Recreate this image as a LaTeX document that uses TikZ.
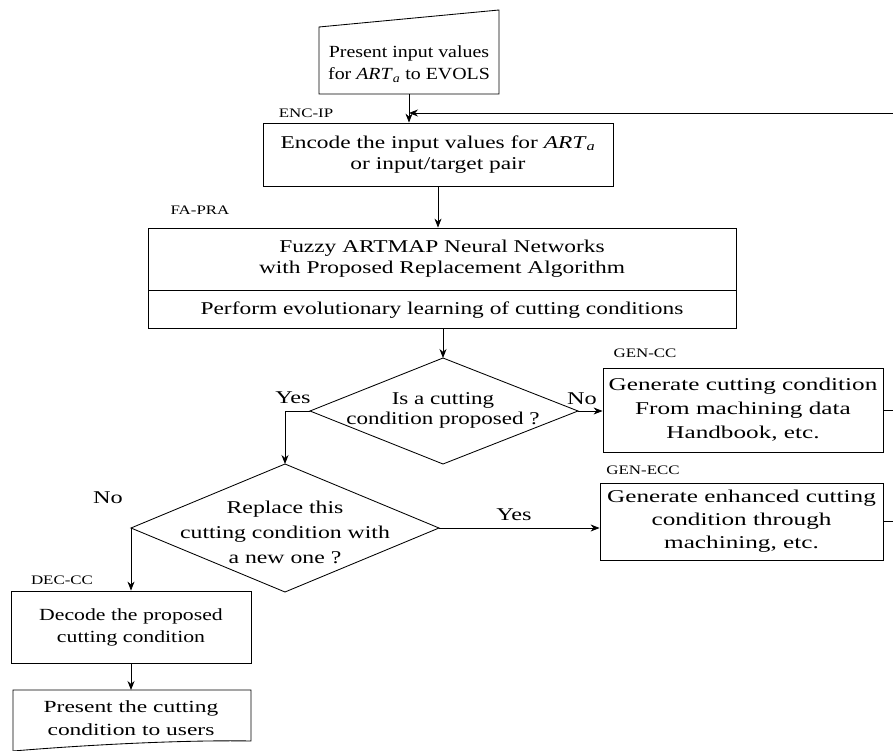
\documentclass[tikz,border=0pt]{standalone}
\usepackage{fontspec}
\setmainfont{Liberation Serif}
\newfontfamily\fwa[FakeStretch=1.17]{Liberation Serif}
\newfontfamily\fwb[FakeStretch=1.30]{Liberation Serif}
\newfontfamily\fwc[FakeStretch=1.30]{Liberation Serif}
\newfontfamily\fwd[FakeStretch=1.40]{Liberation Serif}
\newfontfamily\fwe[FakeStretch=1.28]{Liberation Serif}
\newfontfamily\fwg[FakeStretch=1.32]{Liberation Serif}
\newfontfamily\fwf[FakeStretch=1.28]{Liberation Serif}
\newfontfamily\fwh[FakeStretch=1.38]{Liberation Serif}
\newfontfamily\fwy[FakeStretch=1.35]{Liberation Serif}
\newfontfamily\fwl[FakeStretch=1.30]{Liberation Serif}
\newcommand{\arta}{\textit{ART}\textsubscript{\textit{a}}}
\usetikzlibrary{arrows.meta}
\begin{document}
\begin{tikzpicture}[x=1pt,y=-1pt,line width=0.85pt,
  txt/.style={inner sep=0pt, align=center},
  box/.style={txt, draw},
  sA/.style={font=\fwa\fontsize{17}{22}\selectfont},
  sB/.style={font=\fwb\fontsize{18}{21}\selectfont},
  sC/.style={font=\fwc\fontsize{18}{21}\selectfont},
  sD/.style={font=\fwd\fontsize{18}{24}\selectfont},
  sD2/.style={font=\fwd\fontsize{18}{23}\selectfont},
  sE/.style={font=\fwe\fontsize{18}{20}\selectfont},
  sG/.style={font=\fwg\fontsize{18}{25}\selectfont},
  sF/.style={font=\fwf\fontsize{17}{22}\selectfont},
  sH/.style={font=\fwh\fontsize{17}{23}\selectfont},
  yn/.style={txt, font=\fwy\fontsize{18}{22}\selectfont},
  lbl/.style={font=\fwl\fontsize{13}{15}\selectfont, inner sep=0pt},
  arr/.style={-{Stealth[length=9pt,width=7pt]}}]
\useasboundingbox (0,0) rectangle (893,751);
% top manual-input box
\coordinate (tbl) at (319,27);
\coordinate (tbr) at (499,10);
\coordinate (tb) at (409,94);
\draw (tbl) -- (tbr) -- (499,94) -- (319,94) -- cycle;
\node[txt, sA] (toptxt) at (409,64) {Present input values\\for \arta{} to EVOLS};
% encode
\node[lbl] (encip) at (306,113) {ENC-IP};
\node[box, sB, minimum width=350pt, minimum height=63pt] (enc) at (438,154.5) {Encode the input values for \arta\\or input/target pair};
\draw[arr] (tb) -- (tb |- enc.north);
\coordinate (fb) at (893,113);
\draw[arr] (fb) -- (fb -| tb);
% FA-PRA
\node[lbl] (fapra) at (200,210) {FA-PRA};
\node[box, sC, minimum width=588pt, minimum height=62pt] (fa1) at (442,259) {Fuzzy ARTMAP Neural Networks\\with Proposed Replacement Algorithm};
\node[box, sC, minimum width=588pt, minimum height=38pt, anchor=north] (fa2) at (fa1.south) {Perform evolutionary learning of cutting conditions};
\draw[arr] (enc.south) -- (enc.south |- fa1.north);
% diamond 1
\coordinate (d1t) at (443,358);
\coordinate (d1l) at (310,411);
\coordinate (d1r) at (578,411);
\coordinate (d1b) at (443,464);
\draw (d1t) -- (d1r) -- (d1b) -- (d1l) -- cycle;
\node[txt, sE] (d1txt) at (443,410) {Is a cutting\\condition proposed ?};
\draw[arr] (fa2.south -| d1t) -- (d1t);
\node[yn] (yes1) at (293,398) {Yes};
\node[yn] (no1) at (582,399) {No};
% GEN-CC
\node[lbl] (gencclbl) at (645,353) {GEN-CC};
\node[box, sD, minimum width=280pt, minimum height=84pt] (gencc) at (743,410) {Generate cutting condition\\From machining data\\Handbook, etc.};
\draw[arr] (d1r) -- (d1r -| gencc.west);
\draw (gencc.east) -- (gencc.east -| fb);
% diamond 2
\coordinate (d2t) at (285,464);
\coordinate (d2l) at (131,528);
\coordinate (d2r) at (439,528);
\coordinate (d2b) at (285,592);
\draw (d2t) -- (d2r) -- (d2b) -- (d2l) -- cycle;
\node[txt, sG] (d2txt) at (285,532) {Replace this\\cutting condition with\\a new one ?};
\draw[arr] (d1l) -- (d1l -| d2t) -- (d2t);
% GEN-ECC
\node[lbl] (genecclbl) at (643,470) {GEN-ECC};
\node[box, sD2, minimum width=283pt, minimum height=77pt] (genecc) at (741.5,521.5) {Generate enhanced cutting\\condition through\\machining, etc.};
\draw[arr] (d2r) -- (d2r -| genecc.west);
\node[yn] (yes2) at (514,515) {Yes};
\draw (genecc.east) -- (genecc.east -| fb);
% DEC-CC
\node[yn] (no2) at (108,498) {No};
\node[lbl] (deccc) at (62,580) {DEC-CC};
\node[box, sF, minimum width=240pt, minimum height=72pt] (dec) at (131,627) {Decode the proposed\\cutting condition};
\draw[arr] (d2l) -- (d2l |- dec.north);
% bottom document box
\coordinate (bbt) at (131,690);
\draw (13,690) -- (251,690) -- (251,741) .. controls (200,740) and (110,743) .. (13,751) -- cycle;
\node[txt, sH] (bbtxt) at (131,718.5) {Present the cutting\\condition to users};
\draw[arr] (dec.south) -- (bbt);
\end{tikzpicture}
\end{document}
